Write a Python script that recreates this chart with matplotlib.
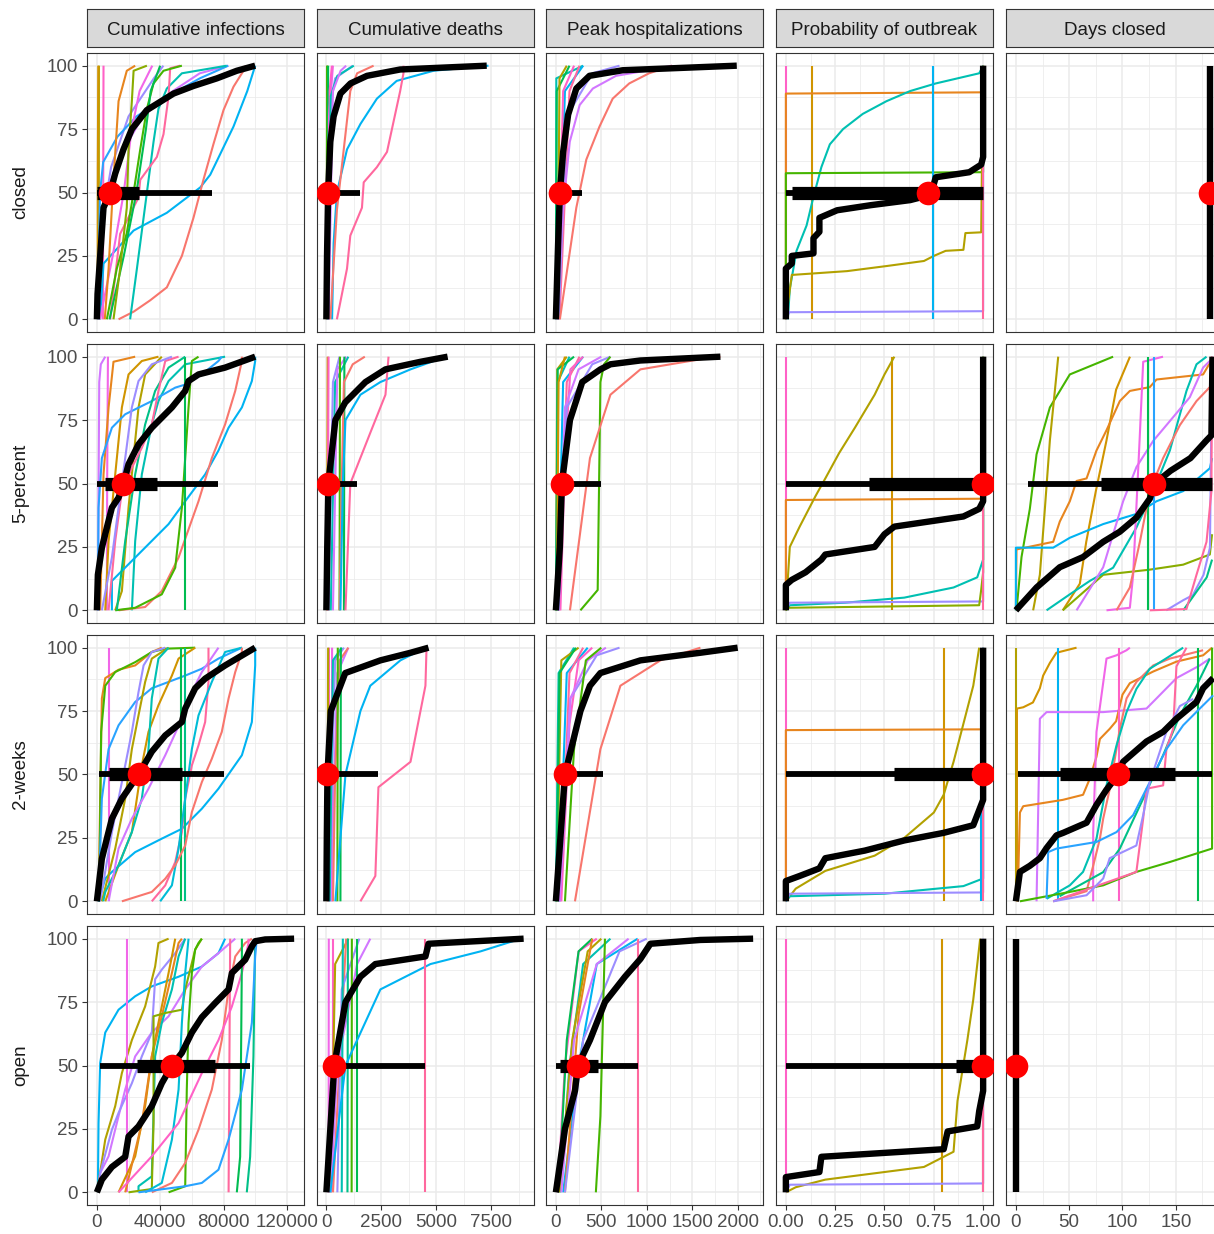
import numpy as np
import matplotlib
matplotlib.use("Agg")
import matplotlib.pyplot as plt

plt.rcParams['font.family'] = ['Liberation Sans', 'DejaVu Sans']

# ---------------------------------------------------------------- labels
metrics = ["Cumulative infections", "Cumulative deaths", "Peak hospitalizations",
           "Probability of outbreak", "Days closed"]
scenarios = ["closed", "5-percent", "2-weeks", "open"]

x_ticks = [[0, 40000, 80000, 120000],
           [0, 2500, 5000, 7500],
           [0, 500, 1000, 1500, 2000],
           [0, 0.25, 0.5, 0.75, 1.0],
           [0, 50, 100, 150]]
x_tick_labels = [["0", "40000", "80000", "120000"],
                 ["0", "2500", "5000", "7500"],
                 ["0", "500", "1000", "1500", "2000"],
                 ["0.00", "0.25", "0.50", "0.75", "1.00"],
                 ["0", "50", "100", "150"]]
y_ticks = [0, 25, 50, 75, 100]

# ------------------------------------------------- model CDFs: (model, [(value, percentile), ...])
# Cumulative infections
inf_closed = [
    (3, [(1200, 0), (1300, 100)]),
    (2, [(500, 0), (600, 60), (900, 100)]),
    (15, [(3800, 0), (4200, 100)]),
    (12, [(1000, 0), (2500, 40), (5000, 45), (9000, 60), (20000, 80), (36000, 95), (42000, 100)]),
    (13, [(1500, 0), (2500, 25), (5000, 45), (9000, 55), (17000, 67), (29000, 80), (48000, 90), (65000, 97), (83000, 100)]),
    (11, [(500, 0), (2000, 50), (4000, 62), (13000, 72), (25000, 80), (45000, 88), (65000, 95), (83000, 100)]),
    (10, [(2000, 0), (4200, 22), (23200, 35), (44200, 42), (65300, 52), (71600, 57), (86300, 76), (95000, 90), (100000, 100)]),
    (0, [(13700, 0), (23200, 3), (33700, 7.5), (44200, 12.6), (53700, 25), (61000, 40), (67300, 55), (73600, 69), (80000, 82.5), (86300, 91.7), (92600, 98), (94000, 100)]),
    (8, [(21000, 0), (25300, 20), (29500, 40), (35800, 70), (38900, 83), (44200, 91), (53700, 97), (82000, 100)]),
    (16, [(8400, 0), (14700, 33.7), (26300, 48), (27400, 55), (37900, 64), (42100, 73), (45300, 88), (46300, 99), (52600, 100)]),
    (14, [(2000, 0), (10000, 25), (17000, 50), (22000, 75), (27000, 90), (35000, 100)]),
    (5, [(6300, 0), (12600, 20), (18900, 34), (23200, 50), (27400, 67), (31600, 83), (35800, 93), (42100, 98), (53700, 100)]),
    (6, [(8000, 0), (17000, 25), (25000, 50), (31000, 75), (34000, 90), (40000, 100)]),
    (4, [(10500, 0), (14700, 20), (18900, 44), (20000, 67), (22100, 86), (23200, 98), (31600, 100)]),
    (1, [(5000, 0), (7400, 20), (10000, 50), (13700, 86), (18900, 98), (24200, 100)]),
]
inf_5pct = [
    (13, [(600, 0), (1500, 90), (2500, 97), (5300, 100)]),
    (14, [(6300, 0), (6500, 50), (7000, 100)]),
    (1, [(2100, 0), (4200, 53.6), (7400, 80), (10500, 98), (24200, 100)]),
    (2, [(5300, 0), (7400, 27.3), (11600, 53.6), (13700, 66.8), (15800, 80), (20000, 93), (28400, 98.3), (38900, 100)]),
    (3, [(11600, 0), (15800, 7.6), (20000, 40.5), (24200, 66.8), (26300, 80), (30500, 93), (41000, 100)]),
    (8, [(22100, 0), (24200, 27.3), (28400, 53.6), (34700, 73.3), (38900, 82.5), (45300, 90.4), (55800, 97), (81000, 100)]),
    (10, [(9500, 0), (9500, 11.6), (24200, 20.8), (45300, 34), (55800, 43), (68400, 53.6), (76800, 63), (83200, 72), (91600, 80), (97900, 90.4), (100000, 98.3), (100000, 100)]),
    (11, [(630, 0), (1050, 40.5), (3160, 60), (9500, 72), (17900, 77.3), (34700, 82.5), (49500, 87.8), (55800, 89), (66300, 93), (76800, 98.3), (78900, 100)]),
    (0, [(13700, 0), (30500, 1.3), (41000, 7.6), (51600, 20.8), (64200, 43), (72600, 60), (81000, 73.3), (87400, 86.5), (91600, 98.3), (91600, 100)]),
    (5, [(11600, 0), (24200, 1), (41000, 6.3), (49500, 16.8), (53700, 40.5), (55800, 60), (57900, 80), (60000, 98.3), (64200, 100)]),
    (6, [(55800, 0), (55800, 100)]),
    (7, [(12600, 0), (17900, 27.3), (24200, 53.6), (30500, 73.3), (36800, 86.5), (45300, 95.7), (55800, 100)]),
    (16, [(7400, 0), (11600, 27.3), (15800, 47), (22100, 56.2), (28400, 64.1), (34700, 73.3), (38900, 86.5), (43200, 98.3), (51600, 100)]),
    (12, [(3160, 0), (9500, 20.8), (13700, 40.5), (17900, 60), (22100, 80), (26300, 90.4), (34700, 97), (47400, 100)]),
]
inf_2wk = [
    (14, [(7800, 0), (7800, 100)]),
    (1, [(1050, 0), (2100, 40.5), (3160, 80), (5300, 88), (13700, 91.3), (24200, 93), (34700, 98.3), (41000, 100)]),
    (5, [(1500, 0), (2700, 66.8), (5300, 85), (11600, 90.4), (24200, 94.3), (34700, 98.3), (43200, 99.6), (62100, 100)]),
    (11, [(1050, 0), (3160, 40.5), (7400, 60), (13700, 69.4), (24200, 78.6), (34700, 84), (45300, 86.5), (55800, 89), (66300, 91.7), (76800, 95.7), (91600, 100)]),
    (10, [(1050, 0), (5300, 9), (9500, 11.6), (24200, 19.4), (41000, 24.7), (53700, 28.6), (66300, 36.5), (76800, 44.4), (91600, 57.6), (97900, 70.7), (100000, 93), (100000, 100)]),
    (12, [(2100, 0), (9500, 27.3), (15800, 47), (22100, 66.8), (26300, 82.5), (29500, 93), (34700, 98.3), (43200, 100)]),
    (3, [(3160, 0), (11600, 20.8), (17900, 40.5), (22100, 60), (26300, 73.3), (30500, 86.5), (34700, 95.7), (45300, 100)]),
    (2, [(5300, 0), (13700, 14.2), (22100, 27.3), (28400, 53.6), (32600, 66.8), (38900, 77.3), (47400, 89), (51600, 95.7), (62100, 100)]),
    (8, [(4000, 0), (5300, 3.7), (13700, 14.2), (22100, 27.3), (28400, 40.5), (32600, 60), (34700, 80), (38900, 95.7), (45300, 100)]),
    (13, [(7400, 0), (13700, 20.8), (22100, 32.6), (32600, 44.4), (43200, 57.6), (53700, 72), (60000, 82.5), (66300, 90.4), (76800, 100)]),
    (16, [(34700, 0), (43200, 6.3), (49500, 15.5), (53700, 27.3), (55800, 40.5), (60000, 53.6), (64200, 61.5), (68400, 70.7), (70500, 86.5), (70500, 100)]),
    (6, [(53300, 0), (53300, 100)]),
    (7, [(55800, 0), (55800, 100)]),
    (9, [(40000, 0), (47400, 6.3), (51600, 20.8), (55800, 40.5), (60000, 60), (64200, 73.3), (72600, 86.5), (81000, 98.3), (91600, 100)]),
    (0, [(15800, 0), (34700, 3.7), (43200, 8.9), (49500, 14.2), (55800, 22), (60000, 35.2), (66300, 47), (72600, 56.2), (78900, 66.8), (83200, 80), (87400, 90.4), (91600, 98.3), (91600, 100)]),
]
inf_open = [
    (10, [(630, 0), (1050, 27.3), (2100, 51), (5300, 63), (13700, 72), (24200, 77.3), (34700, 81.2), (51600, 85), (66300, 89), (76800, 94.3), (81000, 100)]),
    (3, [(600, 0), (1050, 3.7), (5300, 20.8), (11600, 34), (15800, 47), (22100, 60), (30500, 73.3), (36800, 89), (38900, 98.3), (45300, 100)]),
    (13, [(1000, 0), (2100, 7.6), (7400, 14.2), (12600, 27.3), (17900, 40.5), (24200, 53.6), (34700, 63), (45300, 69.4), (55800, 80), (66300, 89), (76800, 94.3), (87400, 100)]),
    (12, [(1000, 0), (2100, 7.6), (9500, 24.7), (13700, 31.3), (22100, 43), (28400, 53.6), (34700, 63), (36800, 84), (41000, 87.8), (49500, 94.3), (55800, 100)]),
    (14, [(18900, 0), (18900, 100)]),
    (2, [(13700, 0), (24200, 14.2), (30500, 34), (34700, 53.6), (38900, 66.8), (43200, 80), (47400, 93), (49500, 100)]),
    (1, [(17900, 0), (28400, 27.3), (34700, 53.6), (41000, 69.4), (47400, 86.5), (51600, 98.3), (53700, 100)]),
    (8, [(26300, 0), (26300, 2.4), (34700, 6.3), (36800, 53.6), (41000, 66.8), (47400, 80), (51600, 93), (55800, 100)]),
    (4, [(20000, 0), (34700, 1.3), (35800, 27.3), (35800, 69.4), (43200, 70.7), (53700, 72), (55800, 80), (60000, 90.4), (62100, 95.7), (66300, 100)]),
    (5, [(45300, 0), (55800, 2.4), (56800, 40.5), (57900, 66.8), (60000, 86.5), (62100, 95.7), (64200, 98.3), (66300, 100)]),
    (9, [(30500, 0), (41000, 3.7), (47400, 20.8), (51600, 40.5), (53700, 66.8), (55800, 86.5), (57900, 100)]),
    (0, [(34700, 0), (47400, 3.7), (55800, 11.6), (64200, 24.7), (72600, 40.5), (78900, 60), (83200, 80), (87400, 93), (93700, 98.3), (97900, 100)]),
    (16, [(83200, 0), (84200, 100)]),
    (15, [(13700, 0), (34700, 14.2), (51600, 27.3), (66300, 47), (76800, 60), (85300, 73.3), (91600, 86.5), (95800, 98.3), (95800, 100)]),
    (6, [(88400, 0), (90500, 14), (91600, 92), (91600, 100)]),
    (7, [(94700, 0), (96800, 14), (98900, 53.6), (100000, 100)]),
    (11, [(26300, 0), (55800, 2.4), (66300, 3.7), (76800, 8.9), (83200, 20.8), (91600, 40.5), (97900, 66.8), (100000, 93), (101000, 100)]),
]

# Cumulative deaths
dth_closed = [
    (3, [(10, 0), (40, 100)]),
    (5, [(20, 0), (30, 100)]),
    (6, [(60, 0), (80, 100)]),
    (14, [(60, 0), (120, 80), (300, 100)]),
    (15, [(100, 0), (150, 90), (250, 100)]),
    (12, [(50, 0), (200, 85), (400, 95), (1200, 100)]),
    (8, [(80, 0), (200, 88), (500, 96), (1250, 100)]),
    (13, [(100, 0), (300, 90), (650, 98), (900, 100)]),
    (10, [(260, 0), (330, 30), (480, 50), (940, 67), (1550, 77), (2300, 87), (3200, 94), (4880, 98), (7380, 100)]),
    (0, [(180, 0), (480, 43), (1090, 90), (1400, 97), (2150, 100)]),
    (16, [(480, 0), (940, 20), (1090, 33), (1620, 44), (1700, 54), (2300, 60), (2760, 66), (3360, 90), (3510, 97), (3510, 100)]),
]
dth_5pct = [
    (2, [(30, 0), (60, 100)]),
    (15, [(50, 0), (100, 100)]),
    (12, [(100, 0), (300, 90), (600, 100)]),
    (8, [(200, 0), (400, 90), (1000, 100)]),
    (13, [(300, 0), (500, 95), (900, 100)]),
    (5, [(600, 0), (620, 100)]),
    (6, [(800, 0), (820, 100)]),
    (0, [(600, 0), (700, 50), (800, 90), (1200, 97), (1750, 100)]),
    (10, [(640, 0), (750, 50), (870, 75), (1550, 85), (2460, 90), (3830, 95), (5430, 100)]),
    (16, [(870, 0), (1090, 50), (2000, 70), (2690, 85), (2830, 100)]),
]
dth_2wk = [
    (15, [(100, 0), (120, 100)]),
    (3, [(50, 0), (80, 100)]),
    (14, [(250, 0), (260, 100)]),
    (12, [(100, 0), (400, 95), (800, 100)]),
    (13, [(200, 0), (500, 90), (1000, 100)]),
    (8, [(150, 0), (300, 95), (700, 100)]),
    (0, [(300, 0), (400, 50), (600, 95), (1000, 100)]),
    (5, [(500, 0), (520, 100)]),
    (6, [(640, 0), (660, 100)]),
    (10, [(410, 0), (870, 50), (1550, 75), (2000, 85), (3370, 95), (4510, 100)]),
    (16, [(1550, 0), (2230, 10), (2370, 45), (3830, 55), (4510, 85), (4560, 100)]),
]
dth_open = [
    (14, [(100, 0), (110, 100)]),
    (15, [(300, 0), (300, 100)]),
    (3, [(200, 0), (400, 90), (1000, 100)]),
    (0, [(300, 0), (600, 50), (900, 100)]),
    (12, [(500, 0), (700, 80), (1500, 100)]),
    (13, [(200, 0), (500, 50), (1400, 90), (2000, 100)]),
    (8, [(700, 0), (750, 100)]),
    (7, [(960, 0), (980, 100)]),
    (5, [(1150, 0), (1160, 100)]),
    (6, [(1410, 0), (1410, 100)]),
    (10, [(180, 0), (870, 50), (2460, 80), (4740, 90), (7020, 95), (8850, 100)]),
    (16, [(4510, 0), (4510, 100)]),
]

# Peak hospitalizations
hosp_closed = [
    (8, [(0, 0), (5, 95), (300, 100)]),
    (6, [(2, 0), (10, 90), (150, 100)]),
    (3, [(20, 0), (40, 95), (120, 100)]),
    (10, [(20, 0), (100, 90), (300, 100)]),
    (16, [(40, 0), (150, 90), (260, 100)]),
    (15, [(20, 0), (80, 90), (200, 100)]),
    (12, [(30, 0), (120, 80), (400, 97), (700, 100)]),
    (13, [(7, 0), (80, 44), (153, 70), (262, 84.5), (407, 91), (662, 96), (989, 98), (1280, 100)]),
    (0, [(44, 0), (116, 17.5), (225, 44), (335, 63), (480, 76), (625, 87), (807, 93), (1025, 97), (1280, 100)]),
]
hosp_5pct = [
    (3, [(0, 0), (15, 95), (120, 100)]),
    (8, [(0, 0), (20, 90), (150, 100)]),
    (6, [(5, 0), (20, 95), (200, 100)]),
    (2, [(10, 0), (30, 90), (100, 100)]),
    (10, [(20, 0), (80, 90), (300, 100)]),
    (16, [(40, 0), (120, 90), (260, 100)]),
    (15, [(50, 0), (100, 60), (160, 95), (300, 100)]),
    (13, [(30, 0), (100, 80), (250, 95), (500, 100)]),
    (12, [(30, 0), (120, 80), (400, 97), (600, 100)]),
    (5, [(270, 0), (460, 8), (490, 90), (530, 97), (600, 100)]),
    (0, [(155, 0), (375, 60), (600, 85), (930, 95), (1590, 99), (1810, 100)]),
]
hosp_2wk = [
    (8, [(0, 0), (30, 90), (200, 100)]),
    (3, [(10, 0), (60, 95), (250, 100)]),
    (6, [(5, 0), (40, 90), (220, 100)]),
    (10, [(30, 0), (120, 90), (350, 100)]),
    (16, [(50, 0), (150, 90), (300, 100)]),
    (15, [(60, 0), (150, 70), (250, 95), (400, 100)]),
    (12, [(40, 0), (160, 80), (450, 97), (700, 100)]),
    (13, [(40, 0), (160, 80), (350, 95), (550, 100)]),
    (5, [(100, 0), (200, 60), (330, 95), (500, 100)]),
    (0, [(210, 0), (490, 60), (710, 85), (1150, 95), (1590, 100)]),
]
hosp_open = [
    (15, [(20, 0), (100, 50), (250, 95), (450, 100)]),
    (6, [(30, 0), (120, 60), (250, 95), (400, 100)]),
    (8, [(50, 0), (150, 50), (300, 90), (600, 100)]),
    (3, [(40, 0), (180, 60), (350, 95), (500, 100)]),
    (10, [(80, 0), (250, 50), (450, 90), (900, 100)]),
    (1, [(100, 0), (250, 70), (400, 100)]),
    (12, [(100, 0), (300, 60), (700, 95), (1000, 100)]),
    (13, [(60, 0), (200, 60), (450, 90), (800, 100)]),
    (5, [(440, 0), (490, 30), (540, 100)]),
    (16, [(900, 0), (900, 100)]),
]

# Probability of outbreak
prob_closed = [
    (15, [(0, 0), (0, 100)]),
    (2, [(0.133, 0), (0.133, 100)]),
    (1, [(0, 0), (0, 89), (1, 89.5), (1, 100)]),
    (8, [(0.01, 0), (0.02, 12), (0.054, 27), (0.105, 37), (0.139, 48), (0.18, 60), (0.223, 69), (0.29, 75), (0.39, 81), (0.51, 86), (0.63, 90), (0.76, 93), (0.98, 97), (1, 100)]),
    (5, [(0, 0), (0, 57.6), (1, 58), (1, 100)]),
    (3, [(0, 0), (0.03, 17.5), (0.31, 19), (0.51, 21), (0.7, 23), (0.75, 25), (0.81, 27), (0.9, 27.4), (0.91, 34), (0.99, 34.3), (1, 100)]),
    (10, [(0.747, 0), (0.747, 100)]),
    (12, [(0, 0), (0.017, 2.8), (1, 3.2), (1, 100)]),
    (16, [(1, 0), (1, 100)]),
]
prob_5pct = [
    (15, [(0, 0), (0, 100)]),
    (2, [(0.54, 0), (0.54, 100)]),
    (1, [(0, 0), (0, 43.5), (1, 44), (1, 100)]),
    (3, [(0, 0), (0.02, 25), (0.07, 33), (0.15, 45), (0.2, 52), (0.27, 62), (0.35, 72), (0.45, 85), (0.5, 93), (0.55, 100)]),
    (8, [(0, 0), (0.02, 2), (0.3, 3), (0.6, 5), (0.85, 9), (0.97, 13), (1, 20), (1, 100)]),
    (12, [(0, 0), (0.02, 3), (1, 3.5), (1, 100)]),
    (4, [(0, 0), (0.01, 1), (0.5, 1.5), (0.98, 2), (0.99, 8), (1, 15), (1, 100)]),
    (16, [(1, 0), (1, 100)]),
]
prob_2wk = [
    (15, [(0, 0), (0, 100)]),
    (2, [(0.8, 0), (0.8, 100)]),
    (1, [(0, 0), (0, 67.5), (1, 67.8), (1, 100)]),
    (3, [(0, 0), (0.05, 5), (0.2, 12), (0.45, 18), (0.6, 25), (0.75, 35), (0.8, 42), (0.85, 55), (0.9, 70), (0.95, 85), (0.98, 100)]),
    (8, [(0, 0), (0.02, 2), (0.5, 3), (0.9, 6), (1, 9), (1, 100)]),
    (12, [(0, 0), (0.02, 3), (1, 3.5), (1, 100)]),
    (10, [(0.99, 0), (0.99, 100)]),
    (16, [(1, 0), (1, 100)]),
]
prob_open = [
    (15, [(0, 0), (0, 100)]),
    (2, [(0.79, 0), (0.79, 100)]),
    (3, [(0, 0), (0.05, 2), (0.2, 5), (0.7, 10), (0.85, 16), (0.87, 36), (0.92, 60), (0.95, 76), (0.985, 100)]),
    (12, [(0, 0), (0.02, 3), (1, 3.5), (1, 100)]),
    (4, [(1, 0), (1, 100)]),
    (16, [(1, 0), (1, 100)]),
]

# Days closed
days_closed = [
    (4, [(182, 0), (182, 100)]),
]
days_5pct = [
    (5, [(0.6, 0), (5.3, 21), (13.1, 40), (19.4, 61.5), (31.9, 80), (50.6, 93), (91.2, 100)]),
    (3, [(16.2, 0), (22.5, 14), (27.2, 40), (31.9, 67), (35, 80), (38.1, 93), (39.7, 100)]),
    (2, [(44, 0), (60, 10.5), (66, 27), (75, 47), (85, 67), (94, 87), (107, 100)]),
    (1, [(0, 0), (0.6, 24), (35, 27), (41.2, 35), (50.6, 43), (56.9, 51), (66.3, 52), (75.6, 63), (85, 71), (97.5, 82.5), (106.9, 86.5), (125.6, 88), (131.9, 91), (175.6, 93), (181.9, 97.5), (184, 100)]),
    (10, [(0, 0), (0, 24.7), (35, 24.7), (50.6, 28.6), (81.9, 34), (113, 38), (131.9, 43), (156.9, 47), (181.9, 56), (184, 60)]),
    (4, [(44, 0), (81.9, 14), (125, 16), (156.9, 18), (181.9, 22), (184, 30)]),
    (8, [(28.8, 0), (50.6, 6.3), (69.4, 11.6), (91.2, 16.8), (113, 32.6), (128.8, 47), (144.4, 63), (160, 86.5), (169.4, 97), (178.8, 100)]),
    (13, [(56.9, 0), (72.5, 10.5), (81.9, 17), (91.2, 30), (100.6, 43), (113.1, 56.5), (128.8, 66.8), (144.4, 74.6), (163.1, 84), (175.6, 95.7), (185, 99.6)]),
    (14, [(85, 0), (106.9, 1), (110, 14), (113, 40.5), (116, 66.8), (119.4, 98), (138, 100)]),
    (6, [(124, 0), (124, 100)]),
    (11, [(129.4, 0), (129.4, 100)]),
    (0, [(94.4, 0), (106.9, 9), (116.3, 27), (125.6, 47), (138.1, 60), (153.8, 73), (169.4, 82.5), (181.9, 88)]),
    (12, [(141, 0), (157, 4), (166, 6), (176, 14), (182, 24.7), (184, 100)]),
    (7, [(157, 0), (179, 13), (184, 20)]),
    (16, [(125.6, 0), (160, 0.5), (169.4, 14), (178.8, 27), (183.4, 47), (184, 100)]),
]
days_2wk = [
    (3, [(0.5, 0), (0.5, 100)]),
    (2, [(1, 0), (1, 76), (6.9, 76.5), (16, 78.4), (22.5, 84), (25.6, 89), (31.9, 94), (38, 98), (56.9, 100)]),
    (10, [(39.7, 0), (39.7, 100)]),
    (13, [(19.4, 0), (22.5, 72), (28.8, 74.6), (50.6, 74.6), (81.9, 74.6), (122.5, 76), (131.9, 80), (150.6, 88), (172.5, 93), (181.9, 95.7)]),
    (1, [(1.6, 0), (3.8, 35), (6.9, 37.5), (44, 40), (63, 42), (69, 48), (75.6, 57), (78.8, 64), (88, 68), (94, 71), (100, 81.5), (106.9, 86), (128.8, 90.6), (150.6, 94.5), (175.6, 97), (184, 100)]),
    (14, [(72.5, 0), (72.5, 27), (75.6, 66.8), (85, 95.7), (94.4, 97), (103.8, 99), (106.9, 100)]),
    (15, [(96.9, 0), (96.9, 100)]),
    (0, [(35, 0), (66.3, 4), (72.5, 14), (78.8, 24.7), (81.9, 32.6), (88.1, 44.4), (97.5, 68), (103.8, 80), (113.1, 86.5), (128.8, 93), (144.4, 95.7), (175.6, 99)]),
    (8, [(28.8, 1), (50.6, 6.3), (63, 11.6), (75.6, 24.7), (85, 45.7), (94.4, 61.5), (103.8, 74.6), (113.1, 83.8), (125.6, 91.7), (156.9, 100)]),
    (7, [(41, 2), (81.9, 11.5), (97.5, 20.8), (119.4, 40.5), (138.1, 57.6), (153.8, 73.3), (169.4, 85), (181.9, 95.7)]),
    (6, [(171, 0), (171, 100)]),
    (5, [(3.8, 0), (50.6, 3.7), (81.9, 6.3), (113, 11.6), (144.4, 15.5), (184, 20.8), (184, 100)]),
    (16, [(35, 0), (113, 11.6), (119.4, 32.6), (122.5, 44.4), (138.1, 45.7), (141.2, 60), (147.5, 68), (150.6, 92.6), (160, 100)]),
    (11, [(28.8, 1), (30.3, 19.4), (38.1, 20.8), (75.6, 23.4), (94.4, 27.3), (110, 34), (125.6, 47), (141.2, 60), (156.9, 69.4), (172.5, 76), (185, 81.2)]),
    (12, [(35, 0), (66.3, 2.4), (81.9, 9), (88, 17), (113, 22), (119.4, 34), (125.6, 47), (135, 59), (141.2, 66.8), (153.8, 77), (166.3, 79.8)]),
]
days_open = [
    (2, [(0, 0), (0, 100)]),
]

# ------------------------------------------------- multi-model ensemble CDF per panel
ens_inf = [
    [(0, 0), (420, 10), (2100, 25), (4200, 44), (8400, 50), (11600, 57.5), (16800, 67), (22100, 75), (31600, 82.5), (48400, 89), (61000, 92), (75800, 95), (88400, 98), (100000, 100)],
    [(0, 0), (630, 14), (3160, 24.7), (6300, 32.6), (9500, 40.5), (13700, 44.4), (16800, 50), (20000, 57.6), (26300, 65.4), (34700, 72), (47400, 80), (55800, 86.5), (57900, 90.4), (64200, 93), (81000, 95.7), (100000, 100)],
    [(0, 0), (3160, 16.8), (6300, 24.7), (9500, 32.6), (15800, 40.5), (26300, 50), (34700, 59), (43200, 65.4), (53700, 70.7), (55800, 76), (62100, 84), (68400, 87.8), (81000, 93), (100000, 100)],
    [(0, 0), (3160, 5), (9500, 10), (17900, 14), (20000, 22), (26300, 26), (34700, 34), (41000, 43), (47400, 50), (53700, 55), (60000, 63), (66300, 69), (74700, 74.6), (83200, 80), (85300, 86.5), (93700, 91.7), (97900, 97), (100000, 99), (106300, 99.7), (124600, 100)],
]
ens_dth = [
    [(0, 0), (30, 25), (80, 50), (180, 70), (330, 80), (640, 89), (1100, 93), (1850, 96), (3360, 98.5), (7300, 100)],
    [(0, 0), (40, 25), (90, 50), (410, 75), (860, 82), (1780, 90), (2690, 95), (4290, 98), (5520, 100)],
    [(0, 0), (20, 25), (50, 50), (200, 75), (860, 90), (2460, 95), (3830, 98), (4650, 100)],
    [(0, 0), (180, 25), (360, 50), (870, 75), (1550, 85), (2230, 90), (4510, 93), (4650, 98), (8980, 100)],
]
ens_hosp = [
    [(0, 0), (25, 30), (44, 50), (80, 66), (135, 80.7), (225, 91), (370, 96), (735, 98.2), (1990, 100)],
    [(0, 0), (44, 25), (66, 50), (155, 75), (290, 90), (490, 95), (600, 97), (930, 98.5), (1810, 100)],
    [(0, 0), (50, 25), (100, 50), (270, 75), (375, 85), (490, 90), (930, 95), (1590, 98), (2000, 100)],
    [(0, 0), (100, 25), (210, 40), (243, 50), (375, 60), (540, 75), (760, 85), (930, 92), (1040, 98), (1590, 99.5), (2170, 100)],
]
ens_prob = [
    [(0, 0), (0, 20), (0.03, 22), (0.03, 25), (0.14, 26), (0.14, 32), (0.17, 34.5), (0.17, 40), (0.26, 43), (0.43, 45), (0.63, 47), (0.73, 49), (0.745, 52), (0.76, 56), (0.93, 58), (0.99, 61), (1, 64), (1, 100)],
    [(0, 0), (0, 10), (0.03, 12), (0.1, 15), (0.18, 20), (0.2, 22), (0.45, 25), (0.5, 30), (0.55, 33), (0.9, 37), (0.98, 40), (1, 43), (1, 100)],
    [(0, 0), (0, 8), (0.07, 10), (0.17, 13), (0.2, 17), (0.4, 20), (0.6, 24), (0.8, 27), (0.95, 30), (1, 40), (1, 100)],
    [(0, 0), (0, 6), (0.17, 8), (0.18, 14), (0.8, 17), (0.82, 24), (0.97, 26), (0.98, 32), (1, 40), (1, 100)],
]
ens_days = [
    [(182, 0), (182, 100)],
    [(0, 0), (19.4, 9), (41.2, 17), (63, 21), (81.9, 27), (97.5, 31), (113, 36.5), (125.6, 44), (130.3, 50), (145, 55), (163.7, 60), (178.8, 67), (183.4, 69), (184.4, 100)],
    [(0, 0), (3.8, 11.6), (13.1, 14), (22.5, 17), (28.8, 21), (38.1, 26), (44.4, 27), (66.3, 31), (75.6, 38), (85, 44), (95.9, 50), (100.6, 55), (122.5, 63), (138.1, 66.8), (150.6, 72), (169.4, 78.6), (175.6, 84), (185, 88)],
    [(0, 0), (0, 100)],
]

# ensemble summary per panel: [outer low, inner low, median, inner high, outer high]
int_inf = [[0, 0, 8400, 26300, 73000], [0, 4840, 16800, 37900, 76800],
           [1050, 7800, 26300, 53700, 80000], [2100, 25300, 47400, 74700, 96800]]
int_dth = [[0, 0, 80, 250, 1550], [0, 0, 90, 200, 1400], [0, 0, 50, 150, 2350], [0, 0, 360, 700, 4510]]
int_hosp = [[0, 0, 44, 100, 290], [0, 0, 66, 100, 500], [0, 0, 100, 150, 520], [0, 44, 243, 460, 900]]
int_prob = [[0, 0.03, 0.72, 1.0, 1.0], [0, 0.42, 1.0, 1.0, 1.0], [0, 0.55, 1.0, 1.0, 1.0], [0, 0.86, 1.0, 1.0, 1.0]]
int_days = [[182, 182, 182, 182, 182], [11.6, 80, 130, 184, 184], [2.2, 41, 96, 149, 184], [0, 0, 0, 0, 0]]

panels = [
    [inf_closed, inf_5pct, inf_2wk, inf_open],
    [dth_closed, dth_5pct, dth_2wk, dth_open],
    [hosp_closed, hosp_5pct, hosp_2wk, hosp_open],
    [prob_closed, prob_5pct, prob_2wk, prob_open],
    [days_closed, days_5pct, days_2wk, days_open],
]
ensembles = [ens_inf, ens_dth, ens_hosp, ens_prob, ens_days]
intervals = [int_inf, int_dth, int_hosp, int_prob, int_days]


# ------------------------------------------------- discrete hue palette (HCL, L=65, C=100)
def hue_palette(n, l=65.0, c=100.0):
    hues = np.linspace(15, 375, n + 1)[:-1]
    xn, yn, zn = 95.047, 100.0, 108.883
    un = 4 * xn / (xn + 15 * yn + 3 * zn)
    vn = 9 * yn / (xn + 15 * yn + 3 * zn)
    y = yn * ((l + 16) / 116) ** 3
    out = []
    for h in hues:
        u = c * np.cos(np.radians(h))
        v = c * np.sin(np.radians(h))
        up = u / (13 * l) + un
        vp = v / (13 * l) + vn
        x = y * 9 * up / (4 * vp)
        z = y * (12 - 3 * up - 20 * vp) / (4 * vp)
        X, Y, Z = x / 100, y / 100, z / 100
        rgb = np.array([3.2404542 * X - 1.5371385 * Y - 0.4985314 * Z,
                        -0.9692660 * X + 1.8760108 * Y + 0.0415560 * Z,
                        0.0556434 * X - 0.2040259 * Y + 1.0572252 * Z])
        rgb = np.where(rgb <= 0.0031308, 12.92 * rgb, 1.055 * np.clip(rgb, 0, None) ** (1 / 2.4) - 0.055)
        out.append(tuple(np.clip(rgb, 0, 1)))
    return out


model_colors = hue_palette(17)

# ------------------------------------------------- figure layout (pixels)
W, H = 1214, 1234
fig = plt.figure(figsize=(W / 100, H / 100), dpi=100)
col_left = [87, 316.5, 546, 776, 1006]
col_w = 217
row_top = [53, 344, 635, 926]
row_h = 279
strip_top, strip_h = 9, 38

FS = 13.5
GRID = '#EBEBEB'
BORDER = '#333333'


def col_limits(ci):
    vals = []
    for panel in panels[ci]:
        for _, pts in panel:
            vals += [p[0] for p in pts]
    for ens in ensembles[ci]:
        vals += [p[0] for p in ens]
    for iv in intervals[ci]:
        vals += iv
    lo, hi = min(vals), max(vals)
    pad = 0.05 * (hi - lo)
    return lo - pad, hi + pad


def minor_between(major, lim):
    step = major[1] - major[0]
    cand = np.arange(major[0] - step / 2, major[-1] + step, step)
    return [m for m in cand if lim[0] <= m <= lim[1]]


y_lim = (-5, 105)
y_minor = minor_between(y_ticks, y_lim)

for ci in range(5):
    xl = col_limits(ci)
    x_minor = minor_between(x_ticks[ci], xl)
    # facet strip
    sax = fig.add_axes([col_left[ci] / W, 1 - (strip_top + strip_h) / H, col_w / W, strip_h / H])
    sax.set_facecolor('#D9D9D9')
    sax.set_xticks([]); sax.set_yticks([])
    for s in sax.spines.values():
        s.set_color(BORDER); s.set_linewidth(0.8)
    sax.text(0.5, 0.44, metrics[ci], ha='center', va='center', fontsize=FS, color='#1A1A1A',
             transform=sax.transAxes)

    for ri in range(4):
        ax = fig.add_axes([col_left[ci] / W, 1 - (row_top[ri] + row_h) / H, col_w / W, row_h / H])
        ax.set_xlim(xl)
        ax.set_ylim(y_lim)
        ax.set_facecolor('white')
        for v in x_minor:
            ax.axvline(v, color=GRID, lw=0.55, zorder=0)
        for v in y_minor:
            ax.axhline(v, color=GRID, lw=0.55, zorder=0)
        for v in x_ticks[ci]:
            ax.axvline(v, color=GRID, lw=1.1, zorder=0)
        for v in y_ticks:
            ax.axhline(v, color=GRID, lw=1.1, zorder=0)

        for model, pts in panels[ci][ri]:
            xs = [p[0] for p in pts]
            ys = [p[1] for p in pts]
            ax.plot(xs, ys, color=model_colors[model], lw=1.5, zorder=2,
                    solid_capstyle='butt', solid_joinstyle='round')

        ens = ensembles[ci][ri]
        ax.plot([p[0] for p in ens], [p[1] for p in ens], color='black', lw=4.6, zorder=3,
                solid_capstyle='butt', solid_joinstyle='round')

        lo, lo2, med, hi2, hi = intervals[ci][ri]
        ax.plot([lo, hi], [50, 50], color='black', lw=4.2, zorder=4, solid_capstyle='butt')
        ax.plot([lo2, hi2], [50, 50], color='black', lw=9.5, zorder=4, solid_capstyle='butt')
        ax.plot([med], [50], 'o', color='red', ms=17, mec='none', zorder=5)

        for s in ax.spines.values():
            s.set_color(BORDER); s.set_linewidth(0.8)
        ax.set_xticks(x_ticks[ci])
        ax.set_yticks(y_ticks)
        ax.tick_params(length=3.5, width=0.8, color=BORDER, labelcolor='#4D4D4D',
                       labelsize=FS, pad=3)
        if ri == 3:
            ax.set_xticklabels(x_tick_labels[ci])
        else:
            ax.tick_params(axis='x', length=0, labelbottom=False)
        if ci == 0:
            ax.set_yticklabels([str(t) for t in y_ticks])
        else:
            ax.tick_params(axis='y', length=0, labelleft=False)

for ri in range(4):
    yc = 1 - (row_top[ri] + row_h / 2) / H
    fig.text(21 / W, yc, scenarios[ri], rotation=90, ha='center', va='center',
             fontsize=FS, color='#1A1A1A')

fig.savefig('out.png', dpi=100)
